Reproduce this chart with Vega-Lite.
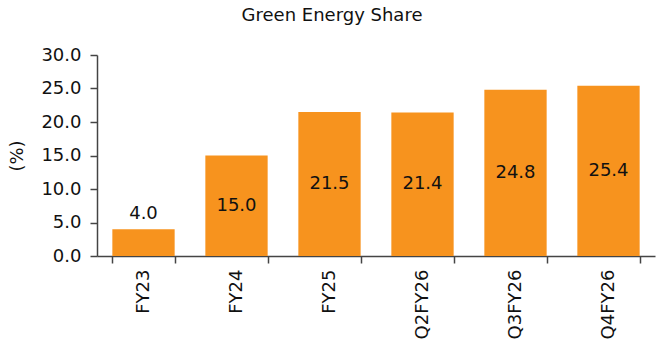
{
  "$schema": "https://vega.github.io/schema/vega-lite/v6.json",
  "autosize": "none",
  "padding": {"left": 97, "top": 55, "right": 2, "bottom": 84},
  "width": 558,
  "height": 201,
  "title": {"text": "Green Energy Share", "font": "DejaVu Sans", "fontSize": 18, "fontWeight": "normal", "color": "#111111", "offset": 21, "anchor": "middle", "frame": "group", "dx": -44},
  "config": {
    "view": {"stroke": null},
    "font": "DejaVu Sans",
    "axisY": {"titleFontSize": 18, "titleFontWeight": "normal", "titleColor": "#111111", "titlePadding": 14, "labelFontSize": 18, "labelColor": "#111111", "grid": false, "tickSize": 7, "domainColor": "#444444", "tickColor": "#444444", "domainWidth": 1.5, "tickWidth": 1.5, "labelPadding": 9, "labelOverlap": false, "format": ".1f", "values": [0, 5, 10, 15, 20, 25, 30]}
  },
  "data": {"values": [
    {"period": "FY23", "value": 4.0},
    {"period": "FY24", "value": 15.0},
    {"period": "FY25", "value": 21.5},
    {"period": "Q2FY26", "value": 21.4},
    {"period": "Q3FY26", "value": 24.8},
    {"period": "Q4FY26", "value": 25.4}
  ]},
  "transform": [{"calculate": "datum.value / 2", "as": "mid"}],
  "encoding": {
    "x": {"field": "period", "type": "nominal", "sort": null,
      "scale": {"paddingInner": 0.33, "paddingOuter": 0.165},
      "axis": {"title": null, "labelAngle": -90, "labelAlign": "right", "labelBaseline": "middle", "labelFontSize": 18, "labelColor": "#111111", "labelPadding": 6, "tickBand": "extent", "tickSize": 7, "domainColor": "#444444", "tickColor": "#444444", "domainWidth": 1.5, "tickWidth": 1.5, "labelOverlap": false}
    }
  },
  "layer": [
    {
      "mark": {"type": "bar", "color": "#F7931E"},
      "encoding": {
        "y": {"field": "value", "type": "quantitative", "title": "(%)",
          "scale": {"domain": [0, 30]},
          "axis": {"title": "(%)", "values": [0, 5, 10, 15, 20, 25, 30], "format": ".1f"}
        }
      }
    },
    {
      "transform": [{"filter": "datum.value >= 10"}],
      "mark": {"type": "text", "fontSize": 18, "color": "#111111", "baseline": "middle"},
      "encoding": {
        "y": {"field": "mid", "type": "quantitative", "title": "(%)",
          "axis": {"title": "(%)", "values": [0, 5, 10, 15, 20, 25, 30], "format": ".1f"}},
        "text": {"field": "value", "type": "quantitative", "format": ".1f"}
      }
    },
    {
      "transform": [{"filter": "datum.value < 10"}],
      "mark": {"type": "text", "fontSize": 18, "color": "#111111", "baseline": "bottom", "dy": -6},
      "encoding": {
        "y": {"field": "value", "type": "quantitative", "title": "(%)",
          "axis": {"title": "(%)", "values": [0, 5, 10, 15, 20, 25, 30], "format": ".1f"}},
        "text": {"field": "value", "type": "quantitative", "format": ".1f"}
      }
    }
  ]
}
